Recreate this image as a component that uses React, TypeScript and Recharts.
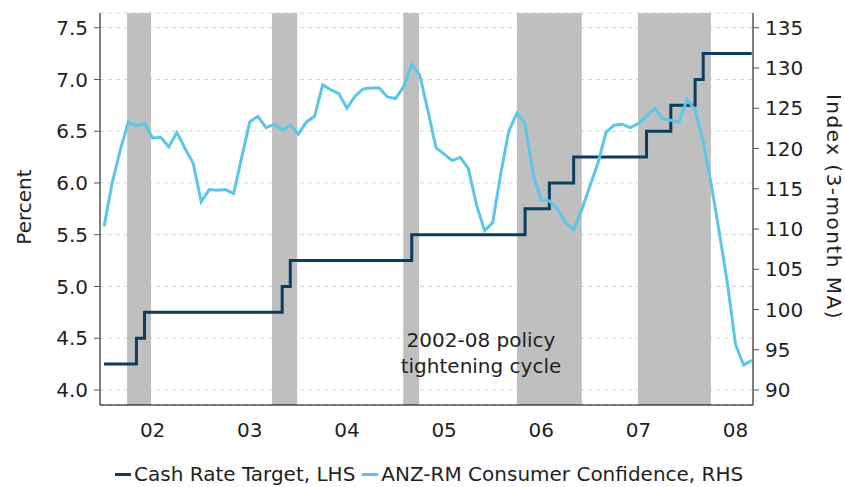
import { LineChart, Line, XAxis, YAxis, CartesianGrid, ReferenceArea } from "recharts";

// monthly, Jan 2002 .. Sep 2008
const cashRate = [
  4.25, 4.25, 4.25, 4.25, 4.5, 4.75, 4.75, 4.75, 4.75, 4.75,
  4.75, 4.75, 4.75, 4.75, 4.75, 4.75, 4.75, 4.75, 4.75, 4.75,
  4.75, 4.75, 5.0, 5.25, 5.25, 5.25, 5.25, 5.25, 5.25, 5.25,
  5.25, 5.25, 5.25, 5.25, 5.25, 5.25, 5.25, 5.25, 5.5, 5.5,
  5.5, 5.5, 5.5, 5.5, 5.5, 5.5, 5.5, 5.5, 5.5, 5.5,
  5.5, 5.5, 5.75, 5.75, 5.75, 6.0, 6.0, 6.0, 6.25, 6.25,
  6.25, 6.25, 6.25, 6.25, 6.25, 6.25, 6.25, 6.5, 6.5, 6.5,
  6.75, 6.75, 6.75, 7.0, 7.25, 7.25, 7.25, 7.25, 7.25, 7.25,
  7.25,
];

const confidence = [
  110.3, 115.7, 119.8, 123.3, 122.8, 123.1, 121.3, 121.4, 120.2, 122.0,
  120.0, 118.2, 113.4, 114.9, 114.8, 114.9, 114.4, 118.9, 123.3, 124.0,
  122.6, 123.0, 122.3, 122.9, 121.8, 123.3, 124.0, 127.9, 127.3, 126.8,
  125.0, 126.5, 127.4, 127.5, 127.5, 126.4, 126.2, 127.7, 130.4, 129.1,
  124.7, 120.1, 119.3, 118.5, 118.9, 117.5, 113.0, 109.8, 110.8, 116.9,
  122.2, 124.4, 123.1, 116.7, 113.6, 113.5, 112.5, 110.8, 109.9, 112.4,
  115.3, 118.2, 122.0, 122.9, 123.0, 122.6, 123.1, 124.0, 125.0, 123.7,
  123.5, 123.3, 126.1, 124.8, 120.8, 115.5, 109.5, 103.2, 95.6, 93.1,
  93.7,
];

const yearLabels = ["02", "03", "04", "05", "06", "07", "08"];
const yearStarts = [0, 12, 24, 36, 48, 60, 72];
const yearMids = [6, 18, 30, 42, 54, 66, 78];

// shaded tightening periods (month index)
const tighteningStart = [2.85, 20.75, 36.95, 51.0, 65.95];
const tighteningEnd = [5.8, 23.85, 38.9, 59.0, 74.95];

const leftTicks = [4.0, 4.5, 5.0, 5.5, 6.0, 6.5, 7.0, 7.5];
const rightTicks = [90, 95, 100, 105, 110, 115, 120, 125, 130, 135];

const CASH = "#0a3d5e";
const CONF = "#5bc6e8";
const FONT = "'DejaVu Sans', Verdana, sans-serif";

const data = confidence.map((c, i) => ({ i, cash: cashRate[i], conf: c }));

export default function App() {
  const tickStyle = { fill: "#1f1f1f", fontSize: 20 };

  return (
    <div
      style={{
        position: "absolute",
        left: 0,
        top: 0,
        width: 845,
        height: 487,
        overflow: "hidden",
        background: "#fff",
        fontFamily: FONT,
        color: "#1f1f1f",
      }}
    >
      <LineChart
        width={845}
        height={487}
        data={data}
        margin={{ top: 13, right: 32, left: 30, bottom: 42 }}
      >
        <CartesianGrid
          xAxisId="axis1"
          yAxisId="left"
          vertical={false}
          stroke="#c8d6df"
          strokeDasharray="4 4"
        />
        {tighteningStart.map((s, k) => (
          <ReferenceArea
            key={k}
            xAxisId="axis1"
            yAxisId="left"
            x1={s}
            x2={tighteningEnd[k]}
            fill="#bfbfbf"
            fillOpacity={1}
            stroke="none"
            ifOverflow="hidden"
          />
        ))}
        {/* tick marks at each January */}
        <XAxis
          xAxisId="axis1"
          dataKey="i"
          type="number"
          domain={[-0.5, 80.15]}
          ticks={yearStarts}
          tick={false}
          height={10}
          axisLine={{ stroke: "#000" }}
          tickLine={{ stroke: "#000" }}
          allowDataOverflow
        />
        {/* year labels sit mid-year */}
        <XAxis
          xAxisId="axis2"
          dataKey="i"
          type="number"
          domain={[-0.5, 80.15]}
          ticks={yearMids}
          tickFormatter={(v: number) => yearLabels[yearMids.indexOf(v)] ?? ""}
          tick={tickStyle}
          tickSize={0}
          tickMargin={8}
          height={30}
          axisLine={false}
          tickLine={false}
          allowDataOverflow
        />
        <YAxis
          yAxisId="left"
          orientation="left"
          type="number"
          domain={[3.855, 7.642]}
          ticks={leftTicks}
          tickFormatter={(v: number) => v.toFixed(1)}
          tick={tickStyle}
          tickMargin={6}
          width={70}
          axisLine={{ stroke: "#000" }}
          tickLine={{ stroke: "#555" }}
          allowDataOverflow
        />
        <YAxis
          yAxisId="right"
          orientation="right"
          type="number"
          domain={[88.14, 136.83]}
          ticks={rightTicks}
          tick={tickStyle}
          tickMargin={6}
          width={60}
          axisLine={{ stroke: "#000" }}
          tickLine={{ stroke: "#555" }}
          allowDataOverflow
        />
        <Line
          xAxisId="axis1"
          yAxisId="left"
          type="stepAfter"
          dataKey="cash"
          stroke={CASH}
          strokeWidth={3}
          dot={false}
          isAnimationActive={false}
        />
        <Line
          xAxisId="axis1"
          yAxisId="right"
          type="linear"
          dataKey="conf"
          stroke={CONF}
          strokeWidth={3}
          dot={false}
          isAnimationActive={false}
        />
      </LineChart>

      <div
        style={{
          position: "absolute",
          left: 24,
          top: 207,
          transform: "translate(-50%, -50%) rotate(180deg)",
          writingMode: "vertical-rl",
          fontSize: 20,
          lineHeight: "20px",
          whiteSpace: "nowrap",
        }}
      >
        Percent
      </div>
      <div
        style={{
          position: "absolute",
          left: 834,
          top: 207,
          transform: "translate(-50%, -50%)",
          writingMode: "vertical-rl",
          fontSize: 20,
          lineHeight: "20px",
          letterSpacing: 1.5,
          whiteSpace: "nowrap",
        }}
      >
        Index (3-month MA)
      </div>

      <div
        style={{
          position: "absolute",
          left: 481,
          top: 327,
          transform: "translateX(-50%)",
          fontSize: 20,
          lineHeight: "26px",
          textAlign: "center",
          whiteSpace: "nowrap",
        }}
      >
        2002-08 policy
        <br />
        tightening cycle
      </div>

      <div
        style={{
          position: "absolute",
          left: 115,
          top: 462,
          display: "flex",
          alignItems: "center",
          fontSize: 20,
          whiteSpace: "nowrap",
        }}
      >
        <span style={{ width: 16, height: 3, background: CASH, marginRight: 3 }} />
        <span>Cash Rate Target, LHS</span>
        <span style={{ width: 16, height: 3, background: CONF, marginLeft: 7, marginRight: 3 }} />
        <span>ANZ-RM Consumer Confidence, RHS</span>
      </div>
    </div>
  );
}
